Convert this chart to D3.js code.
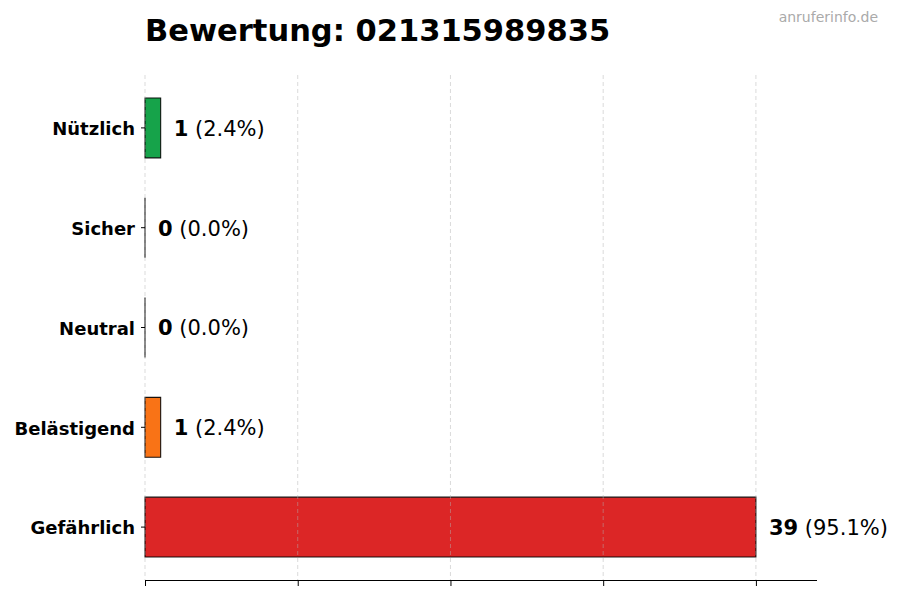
<!DOCTYPE html>
<html><head><meta charset="utf-8">
<script src="https://cdn.jsdelivr.net/npm/d3@7"></script>
<style>body{margin:0;background:#fff}svg{display:block}text{font-family:"DejaVu Sans",sans-serif}</style>
</head><body><div id="c"></div>
<script>
const categories = ["Gefährlich","Belästigend","Neutral","Sicher","Nützlich"];
const values = [39, 1, 0, 0, 1];
const colors = ["#dc2626","#f97316","#9ca3af","#3b82f6","#16a34a"];
const title = "Bewertung: 021315989835";
const watermark = "anruferinfo.de";

(function(){
const W = 900, H = 600;
const mLeft = 145, mRight = 817, mTop = 75, mBottom = 580;
const total = d3.sum(values);
const maxV = d3.max(values);

const svg = d3.select("#c").append("svg").attr("width", W).attr("height", H);

const x = d3.scaleLinear().domain([0, maxV * 1.1]).range([mLeft, mRight]);
const y = d3.scaleLinear().domain([-0.53, categories.length - 1 + 0.53]).range([mBottom, mTop]);
const tickVals = d3.range(5).map(i => maxV * i / 4);

// bars
const bh = y(0) - y(0.6);
categories.forEach((c, i) => {
  const p = d3.path();
  const x0 = x(0), x1 = x(values[i]), yc = y(i);
  p.rect(x0, yc - bh / 2, x1 - x0, bh);
  svg.append("path").attr("d", p.toString())
    .attr("fill", colors[i]).attr("stroke", "#000").attr("stroke-width", 1.1).attr("stroke-opacity", 0.9);
});

// grid
svg.append("g").selectAll("line").data(tickVals).join("line")
  .attr("x1", d => x(d)).attr("x2", d => x(d)).attr("y1", mTop).attr("y2", mBottom)
  .attr("stroke", "#b0b0b0").attr("stroke-opacity", 0.6).attr("stroke-dasharray", "4,3").attr("stroke-width", 0.8);

// x axis
const xa = d3.axisBottom(x).tickValues(tickVals).tickFormat("").tickSizeOuter(0).tickSize(6);
const gx = svg.append("g").attr("transform", `translate(0,${mBottom})`).call(xa);
gx.select(".domain").remove();
gx.selectAll(".tick line").attr("stroke", "#000");
svg.append("line").attr("x1", mLeft).attr("x2", mRight).attr("y1", mBottom + 0.5).attr("y2", mBottom + 0.5).attr("stroke", "#000");

// y labels and ticks
const gy = svg.append("g");
categories.forEach((c, i) => {
  gy.append("line").attr("x1", mLeft - 4).attr("x2", mLeft).attr("y1", y(i)).attr("y2", y(i)).attr("stroke", "#000");
  gy.append("text").attr("x", mLeft - 10).attr("y", y(i)).attr("dy", "0.4em").attr("text-anchor", "end")
    .attr("font-size", 18).attr("font-weight", "bold").text(c);
});

// value labels
categories.forEach((c, i) => {
  const t = svg.append("text").attr("x", x(values[i]) + 13).attr("y", y(i)).attr("dy", "0.38em").attr("font-size", 21);
  t.append("tspan").attr("font-weight", "bold").text(values[i]);
  t.append("tspan").text(" (" + (values[i] / total * 100).toFixed(1) + "%)");
});

svg.append("text").attr("x", mLeft).attr("y", 41).attr("font-size", 30.5).attr("font-weight", "bold").text(title);
svg.append("text").attr("x", 878).attr("y", 22).attr("text-anchor", "end").attr("font-size", 14).attr("fill", "#aaaaaa").text(watermark);
})();
</script></body></html>
